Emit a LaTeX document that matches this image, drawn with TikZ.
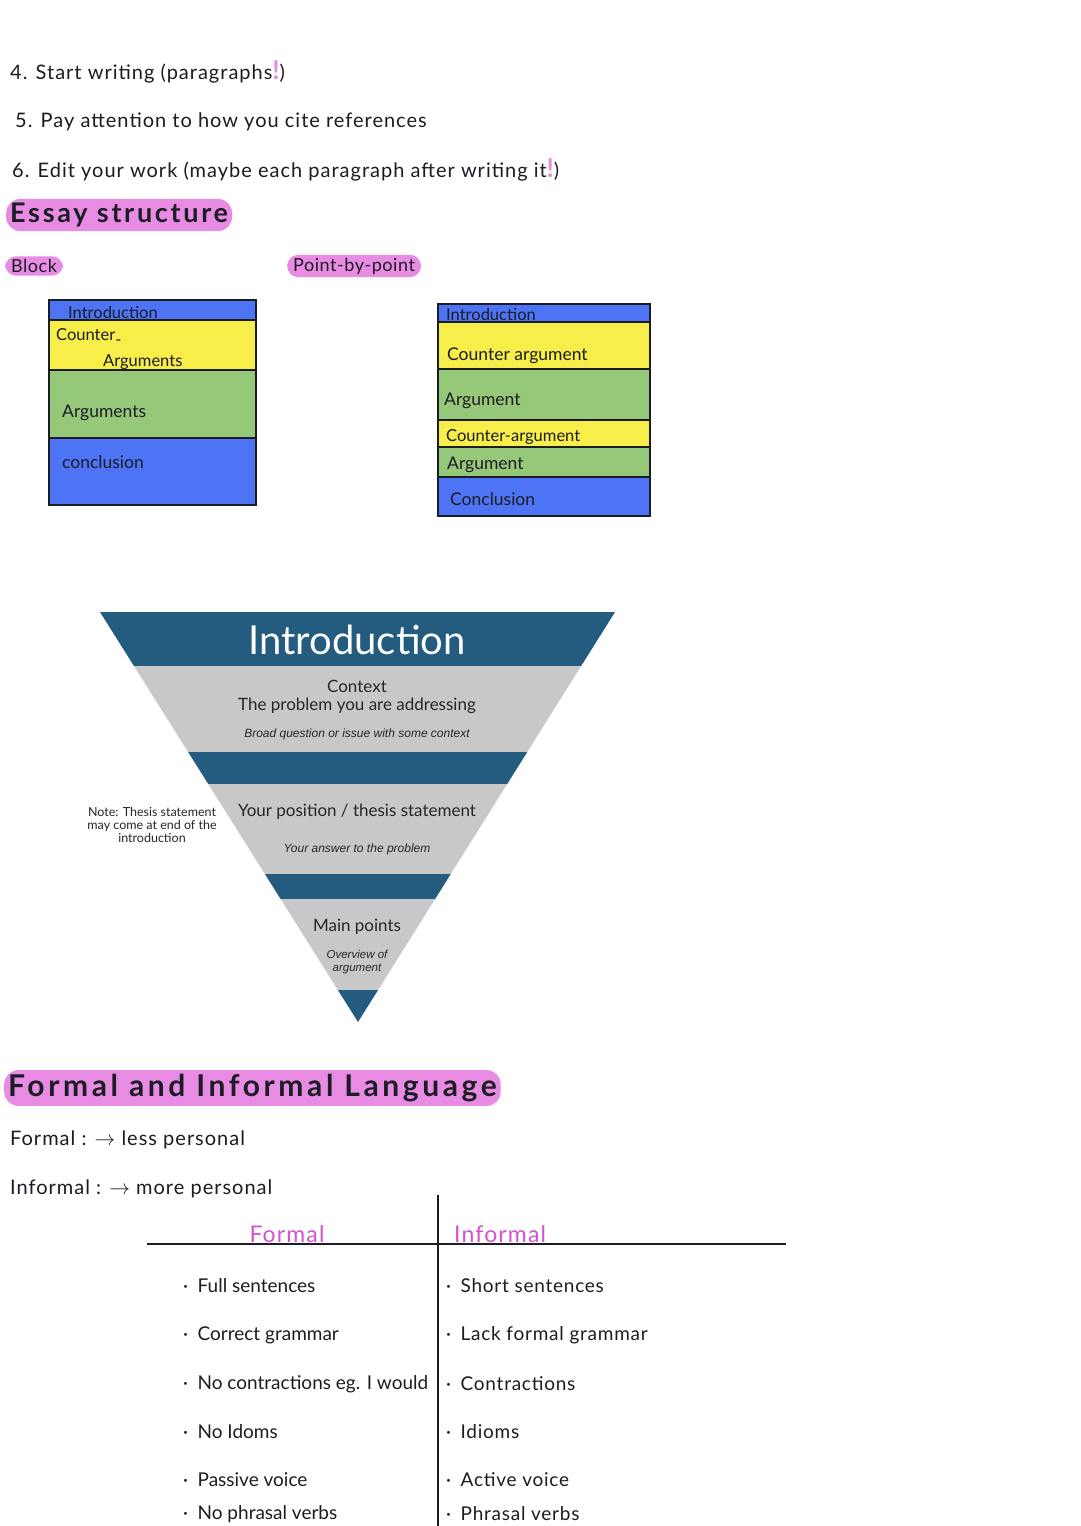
\documentclass[tikz,border=0pt]{standalone}
\usepackage{fontspec}
\setmainfont{Lato}
\newfontfamily\arialish{Liberation Sans}
\usetikzlibrary{positioning}

\definecolor{penpink}{HTML}{D452CF}
\definecolor{markpink}{HTML}{E88BE3}
\definecolor{bandblue}{HTML}{4D74F5}
\definecolor{bandyellow}{HTML}{F7EE4A}
\definecolor{bandgreen}{HTML}{96C87A}
\definecolor{tealblue}{HTML}{235C7E}
\definecolor{funnelgray}{HTML}{C8C8C8}
\definecolor{ink}{HTML}{1C1C24}

\newcommand{\bang}{\textcolor{markpink}{\fontsize{26}{26}\selectfont\bfseries !}}

\tikzset{
  hand/.style={anchor=west,inner sep=0pt,text=ink,
    font=\fontsize{20}{22}\selectfont\addfontfeature{LetterSpace=5}},
  row/.style={anchor=west,inner sep=0pt,text=ink,font=\fontsize{19}{22}\selectfont},
  bandtext/.style={anchor=west,inner sep=0pt,text=ink,font=\fontsize{17.5}{19}\selectfont},
  smallband/.style={bandtext,font=\fontsize{16.5}{18}\selectfont},
  pill/.style={anchor=west,fill=markpink,rounded corners=11pt,inner xsep=6pt,inner ysep=3pt,
    text=ink,font=\fontsize{18}{20}\selectfont\addfontfeature{LetterSpace=3}},
  heading/.style={anchor=west,fill=markpink,rounded corners=14pt,inner xsep=4pt,inner ysep=4pt,
    text=ink,font=\bfseries\fontsize{27}{30}\selectfont\addfontfeature{LetterSpace=10}},
  funnel/.style={inner sep=0pt,align=center,text=black!85},
  funnelnote/.style={funnel,font=\arialish\itshape\fontsize{12}{13}\selectfont},
}

\begin{document}
\begin{tikzpicture}[x=1pt,y=-1pt]
  \useasboundingbox[fill=white] (0,0) rectangle (1080,1526);

  % steps
  \node[hand] (stepfour) at (10,72) {4. Start writing (paragraphs\bang)};
  \node[hand] (stepfive) at (15,122) {5. Pay attention to how you cite references};
  \node[hand] (stepsix) at (12,170) {6. Edit your work (maybe each paragraph after writing it\bang)};
  \node[heading] (essay) at (6,215) {Essay structure};

  \node[pill] (block) at (5,266) {Block};
  \node[pill] (pointwise) at (287,266) {Point-by-point};

  % block layout
  \foreach \ya/\yb/\col in {300/320/bandblue,320/370/bandyellow,370/438/bandgreen,438/505/bandblue}
    \fill[\col] (49,\ya) rectangle (256,\yb);
  \foreach \yy in {320,370,438}
    \draw[line width=2pt,ink] (49,\yy) -- (256,\yy);
  \draw[line width=2.5pt,ink] (49,300) rectangle (256,505);
  \node[smallband] (bintro) at (68,312) {Introduction};
  \node[smallband] (bcounter) at (56,337) {Counter\rlap{\raisebox{-5pt}{-}}};
  \node[smallband] (bcounterb) at (103,362) {Arguments};
  \node[bandtext] (bargs) at (62,413) {Arguments};
  \node[bandtext] (bconcl) at (62,462) {conclusion};

  % point-by-point layout
  \foreach \ya/\yb/\col in {304/322/bandblue,322/369/bandyellow,369/420/bandgreen,
                            420/447/bandyellow,447/477/bandgreen,477/516/bandblue}
    \fill[\col] (438,\ya) rectangle (650,\yb);
  \foreach \yy in {322,369,420,447,477}
    \draw[line width=2pt,ink] (438,\yy) -- (650,\yy);
  \draw[line width=2.5pt,ink] (438,304) rectangle (650,516);
  \node[smallband] (pintro) at (446,314) {Introduction};
  \node[bandtext] (pcounter) at (447,356) {Counter argument};
  \node[bandtext] (parg) at (444,401) {Argument};
  \node[smallband] (pcounterb) at (446,437) {Counter-argument};
  \node[bandtext] (pargb) at (447,465) {Argument};
  \node[bandtext] (pconcl) at (450,499) {Conclusion};

  % introduction funnel
  \begin{scope}
    \clip (100,612) -- (615,612) -- (358,1022) -- cycle;
    \foreach \ya/\yb/\col in {612/666/tealblue,666/752/funnelgray,752/784/tealblue,
                              784/874/funnelgray,874/899/tealblue,899/990/funnelgray,990/1022/tealblue}
      \fill[\col] (90,\ya) rectangle (625,\yb);
  \end{scope}
  \node[funnel,text=white,font=\fontsize{40}{42}\selectfont] (ftitle) at (357,640) {Introduction};
  \node[funnel,font=\fontsize{17}{18}\selectfont] (fcontext) at (357,697) {Context\\The problem you are addressing};
  \node[funnelnote] (fbroad) at (357,734) {Broad question or issue with some context};
  \node[funnel,font=\fontsize{17}{18}\selectfont] (fthesis) at (357,812) {Your position / thesis statement};
  \node[funnelnote] (fanswer) at (357,849) {Your answer to the problem};
  \node[funnel,font=\fontsize{17}{18}\selectfont] (fmain) at (357,927) {Main points};
  \node[funnelnote,font=\arialish\itshape\fontsize{11.5}{13}\selectfont] (foverview) at (357,962) {Overview of\\argument};
  \node[funnel,font=\fontsize{12.5}{13}\selectfont] (fnote) at (152,825) {Note: Thesis statement\\may come at end of the\\introduction};

  % formal and informal language
  \node[heading,font=\bfseries\fontsize{30}{32}\selectfont\addfontfeature{LetterSpace=12}] (lang) at (4,1088) {Formal and Informal Language};
  \node[hand] (formaldef) at (10,1140) {Formal : $\to$ less personal};
  \node[hand] (informaldef) at (10,1189) {Informal : $\to$ more personal};

  \coordinate (vtop) at (438,1195);
  \coordinate (vbot) at (438,1526);
  \coordinate (hleft) at (147,1244);
  \coordinate (hright) at (786,1244);
  \draw[line width=2pt,ink] (vtop) -- (vbot);
  \draw[line width=2pt,ink] (hleft) -- (hright);
  \node[hand,text=penpink,anchor=base,font=\fontsize{23}{24}\selectfont\addfontfeature{LetterSpace=5}] (colformal) at (287,1242) {Formal};
  \node[hand,text=penpink,anchor=base west,font=\fontsize{23}{24}\selectfont\addfontfeature{LetterSpace=5}] (colinformal) at (454,1242) {Informal};

  \foreach \yy/\ltext/\rtext [count=\i] in {1286/Full sentences/Short sentences,
      1335/Correct grammar/Lack formal grammar,
      1384/No contractions eg. I would/Contractions,
      1432/No Idoms/Idioms,
      1480/Passive voice/Active voice,
      1514/No phrasal verbs/Phrasal verbs}{
    \node[row] (formal\i) at (183,\yy) {·\enspace\ltext};
    \node[row,font=\fontsize{19}{22}\selectfont\addfontfeature{LetterSpace=4}] (informal\i) at (446,\yy) {·\enspace\rtext};
  }
\end{tikzpicture}
\end{document}
